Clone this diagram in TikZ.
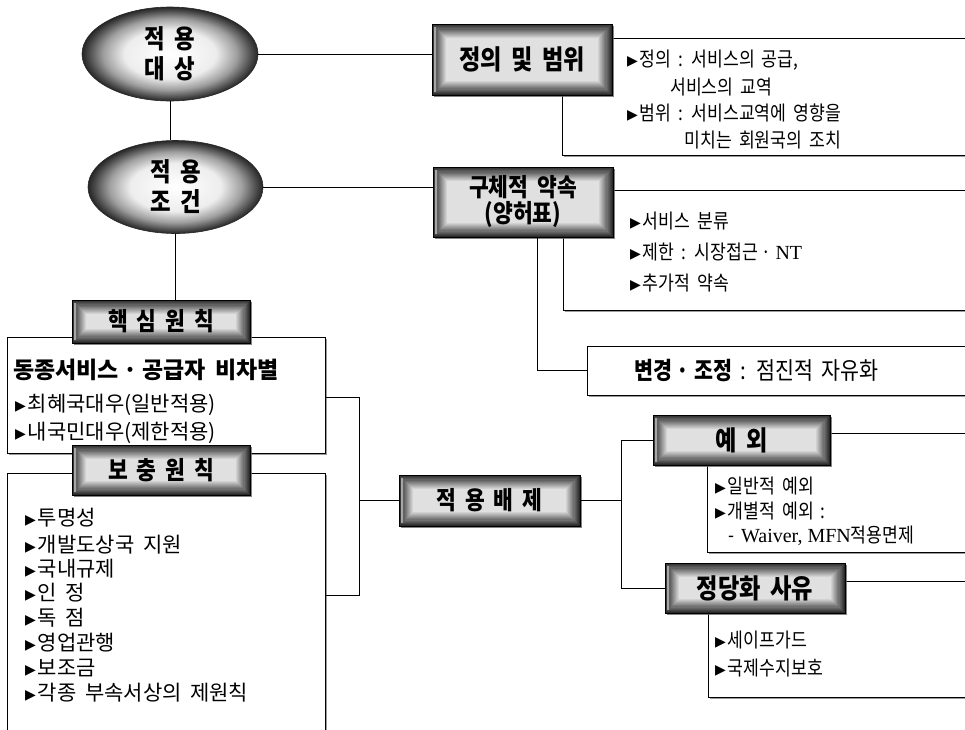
\documentclass[tikz,border=0pt]{standalone}
\usepackage{fontspec}
\setmainfont{Liberation Serif}
\newfontfamily\kr[WordSpace=1.8]{Noto Sans CJK KR}
\newfontfamily\krc[FakeStretch=0.86,WordSpace=1.8]{Noto Sans CJK KR}
\newfontfamily\dejavu{DejaVu Sans}
\newfontfamily\lser{Liberation Serif}
\usetikzlibrary{shapes.geometric,calc,shadows}

\pgfdeclareradialshading{ellshade}{\pgfpoint{0bp}{0bp}}{color(0bp)=(white); color(13bp)=(black!7); color(19bp)=(black!38); color(23.5bp)=(black!74); color(25bp)=(black!85); color(50bp)=(black!85)}

\newcommand\mytri{\raisebox{1pt}{\dejavu\fontsize{14}{14}\selectfont ▶}\hspace{2pt}}
\newcommand\mdot{\hspace{0.2em}·\hspace{0.2em}}

\tikzset{
  ell/.style={ellipse, shading=ellshade, draw=black!85, line width=0.6pt, align=center, inner sep=0pt,
    font=\krc\bfseries\fontsize{26}{29}\selectfont},
  tbox/.style={rectangle, draw=black, line width=1pt, inner sep=0pt, align=center,
    drop shadow={shadow xshift=2pt, shadow yshift=-2pt, fill=black!60, opacity=0.8},
    font=\krc\bfseries\fontsize{27}{27}\selectfont,
    path picture={\foreach \i in {0,...,13}{\pgfmathtruncatemacro{\c}{84-5.5*\i}
      \fill[black!\c] ([shift={(\i*1.1pt,\i*1.1pt)}]path picture bounding box.south west)
        rectangle ([shift={(-\i*1.1pt,-\i*1.1pt)}]path picture bounding box.north east);}
      \draw[black!35, line width=2pt] ([shift={(3pt,3pt)}]path picture bounding box.south west)
        -- ([shift={(3pt,-3pt)}]path picture bounding box.north west);}},
  cbox/.style={rectangle, draw=black, line width=0.9pt, fill=white, inner sep=0pt,
    drop shadow={shadow xshift=1.5pt, shadow yshift=-1.5pt, fill=black!55, opacity=0.7}},
  conn/.style={draw=black, line width=0.8pt},
  rtxt/.style={anchor=west, inner sep=0pt, font=\krc\fontsize{20}{22}\selectfont},
  ltxt/.style={anchor=west, inner sep=0pt, font=\kr\fontsize{21}{24}\selectfont},
}

\begin{document}
\begin{tikzpicture}[x=1pt,y=-1pt]
\useasboundingbox (0,0) rectangle (965,729);
\clip (0,0) rectangle (965,729);
\fill[white] (0,0) rectangle (965,729);

% content boxes
\node[cbox, minimum width=406, minimum height=117] (c1) at (765,96.5) {};
\node[cbox, minimum width=405, minimum height=120] (c2) at (765.5,250) {};
\node[cbox, minimum width=381, minimum height=49] (c3) at (777.5,370.5) {};
\node[cbox, minimum width=318, minimum height=116] (k2) at (166,395) {};
\node[cbox, minimum width=318, minimum height=267] (b2) at (166,606.5) {};
\node[cbox, minimum width=261, minimum height=119] (x2) at (837.5,492.5) {};
\node[cbox, minimum width=260, minimum height=116] (j2) at (838,639) {};

% ellipses
\node[ell, minimum width=176, minimum height=94] (e1) at (170,54) {적 용\\[1pt]대 상};
\node[ell, minimum width=175, minimum height=93] (e2) at (175.5,187) {적 용\\[1pt]조 건};

% title boxes
\node[tbox, minimum width=180, minimum height=71] (t1) at (522,59.5) {정의 및 범위};
\node[tbox, minimum width=180, minimum height=70, font=\krc\bfseries\fontsize{25}{26}\selectfont] (t2) at (523,202) {구체적 약속\\(양허표)};
\node[tbox, minimum width=178, minimum height=43, font=\krc\bfseries\fontsize{25}{25}\selectfont] (k1) at (161,321.5) {핵 심 원 칙};
\node[tbox, minimum width=178, minimum height=50, font=\krc\bfseries\fontsize{25}{25}\selectfont] (b1) at (161,470) {보 충 원 칙};
\node[tbox, minimum width=181, minimum height=51, font=\krc\bfseries\fontsize{25}{25}\selectfont] (a1) at (489.5,500.5) {적 용 배 제};
\node[tbox, minimum width=177, minimum height=50] (x1) at (741.5,440) {예 외};
\node[tbox, minimum width=180, minimum height=50] (j1) at (755,588) {정당화 사유};

% connectors
\coordinate (t2x) at (537,0);
\coordinate (lb) at (359,0);
\coordinate (rb) at (621,0);
\coordinate (ly1) at (0,397);
\coordinate (ly2) at (0,595);
\draw[conn] (e1.east) -- (e1.east -| t1.west);
\draw[conn] (e1.south) -- (e1.south |- e2.north);
\draw[conn] (e2.east) -- (e2.east -| t2.west);
\draw[conn] (e2.south) -- (e2.south |- k1.north);
\draw[conn] (t2.south -| t2x) |- (c3.west);
\draw[conn] (ly1 -| k2.east) -- (ly1 -| lb) -- (ly2 -| lb) -- (ly2 -| b2.east);
\draw[conn] (a1.west -| lb) -- (a1.west);
\draw[conn] (a1.east) -- (a1.east -| rb);
\draw[conn] (x1.west) -- (x1.west -| rb) -- (j1.west -| rb) -- (j1.west);

% right texts
\node[rtxt] (c1a) at (627,60) {\mytri 정의 : 서비스의 공급,};
\node[rtxt] (c1b) at (670,87) {서비스의 교역};
\node[rtxt] (c1c) at (627,113) {\mytri 범위 : 서비스교역에 영향을};
\node[rtxt, anchor=east] (c1d) at (c1c.east |- 0,140) {미치는 회원국의 조치};

\node[rtxt] (c2a) at (630,221) {\mytri 서비스 분류};
\node[rtxt] (c2b) at (630,252) {\mytri 제한 : 시장접근\mdot{\lser NT}};
\node[rtxt] (c2c) at (630,283) {\mytri 추가적 약속};

\node[rtxt, font=\krc\fontsize{24}{26}\selectfont] (c3a) at (634,370.5) {{\bfseries 변경\mdot 조정} : 점진적 자유화};

\node[rtxt] (x2a) at (715,486) {\mytri 일반적 예외};
\node[rtxt] (x2b) at (715,511) {\mytri 개별적 예외 :};
\node[rtxt] (x2c) at (728,536) {- {\lser Waiver, MFN}적용면제};

\node[rtxt] (j2a) at (715,640) {\mytri 세이프가드};
\node[rtxt] (j2b) at (715,668) {\mytri 국제수지보호};

% left texts
\node[ltxt, font=\kr\bfseries\fontsize{23}{25}\selectfont] (k2a) at (13,370) {동종서비스\mdot 공급자 비차별};
\node[ltxt] (k2b) at (15,405) {\mytri 최혜국대우(일반적용)};
\node[ltxt] (k2c) at (15,433) {\mytri 내국민대우(제한적용)};

\node[ltxt] (b2a) at (25,518) {\mytri 투명성};
\node[ltxt] (b2b) at (25,545) {\mytri 개발도상국 지원};
\node[ltxt] (b2c) at (25,569) {\mytri 국내규제};
\node[ltxt] (b2d) at (25,593) {\mytri 인 정};
\node[ltxt] (b2e) at (25,618) {\mytri 독 점};
\node[ltxt] (b2f) at (25,643) {\mytri 영업관행};
\node[ltxt] (b2g) at (25,668) {\mytri 보조금};
\node[ltxt] (b2h) at (25,693) {\mytri 각종 부속서상의 제원칙};
\end{tikzpicture}
\end{document}
